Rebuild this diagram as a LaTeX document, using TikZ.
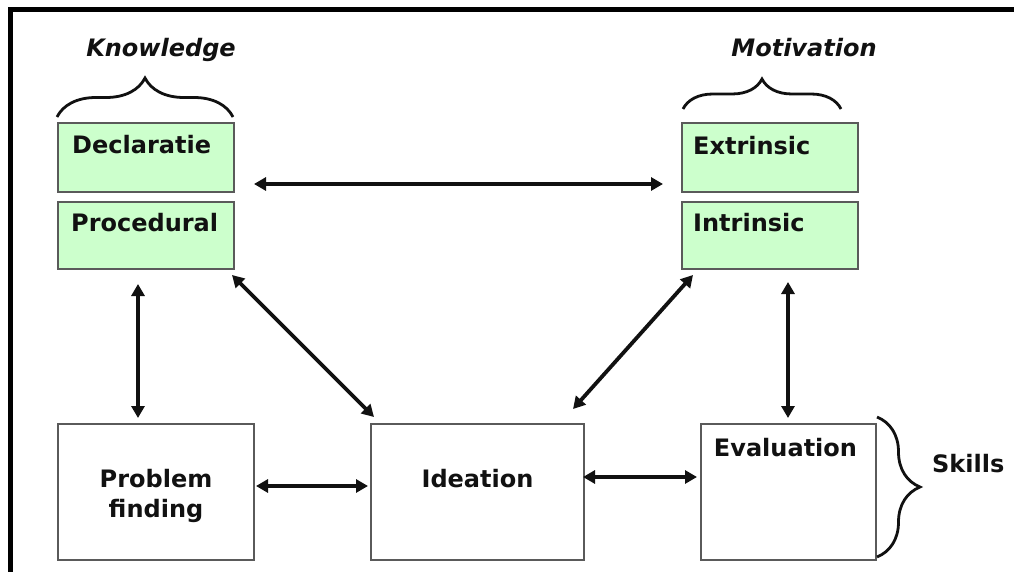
\documentclass[tikz,border=0pt]{standalone}
\usepackage{fontspec}
\setmainfont{DejaVu Sans}
\usetikzlibrary{arrows.meta,calc,decorations.pathreplacing}
\definecolor{boxgreen}{HTML}{CCFFCC}
\definecolor{boxline}{HTML}{5A5A5A}
\definecolor{ink}{HTML}{111111}
\begin{document}
\begin{tikzpicture}[x=1bp,y=-1bp,
  greenbox/.style={draw=boxline,line width=1.3bp,fill=boxgreen,minimum width=176bp,inner sep=0pt,outer sep=0pt},
  whitebox/.style={draw=boxline,line width=1.3bp,fill=white,minimum height=136bp,inner sep=0pt,outer sep=0pt},
  lbl/.style={font=\fontsize{24bp}{30bp}\selectfont\bfseries,text=ink,inner sep=0pt},
  hdr/.style={font=\fontsize{24bp}{28bp}\selectfont\bfseries\itshape,text=ink,inner sep=0pt},
  link/.style={line width=3.8bp,draw=ink,{Triangle[width=13bp,length=12bp]}-{Triangle[width=13bp,length=12bp]}},
  bracket/.style={line width=2.8bp,draw=ink,decorate,decoration={brace,amplitude=#1}}
]
\useasboundingbox (0,0) rectangle (1014,572);
\fill[white] (0,0) rectangle (1014,572);

% frame along the top and left edges
\draw[line width=5.5bp,draw=black] (10.5,572) -- (10.5,9.5) -- (1014,9.5);

% knowledge and motivation boxes
\node[greenbox,minimum height=69bp] (decl) at (146,157.5) {};
\node[greenbox,minimum height=67bp] (proc) at (146,235.5) {};
\node[greenbox,minimum height=69bp] (extr) at (770,157.5) {};
\node[greenbox,minimum height=67bp] (intr) at (770,235.5) {};

\node[lbl,anchor=base west] (declT) at ($(decl.north west)+(14,31)$) {Declaratie};
\node[lbl,anchor=base west] (procT) at ($(proc.north west)+(13,30)$) {Procedural};
\node[lbl,anchor=base west] (extrT) at ($(extr.north west)+(11,32)$) {Extrinsic};
\node[lbl,anchor=base west] (intrT) at ($(intr.north west)+(11,30)$) {Intrinsic};

% skill boxes
\node[whitebox,minimum width=196bp] (prob) at (156,492) {};
\node[whitebox,minimum width=213bp] (idea) at (477.5,492) {};
\node[whitebox,minimum width=175bp] (eval) at (788.5,492) {};

\node[lbl,align=center] (probT) at ($(prob.center)+(0,4)$) {Problem\\finding};
\node[lbl,anchor=base] (ideaT) at ($(idea.north)+(0,63)$) {Ideation};
\node[lbl,anchor=base] (evalT) at ($(eval.north)+(-3,32)$) {Evaluation};

% group headings and braces
\node[hdr,anchor=base] (know) at (161,57) {Knowledge};
\node[hdr,anchor=base] (moti) at (804,57) {Motivation};
\node[lbl,anchor=base west] (skil) at (932,472) {Skills};

\draw[bracket=39bp] ($(decl.north west)+(-1,-6)$) -- ($(decl.north east)+(-1,-6)$);
\draw[bracket=30bp] ($(extr.north west)+(1,-14)$) -- ($(extr.north east)+(-17,-14)$);
\draw[bracket=43bp] ($(eval.north east)+(1,-7)$) -- ($(eval.south east)+(1,-3)$);

% connectors
\draw[link] ($(decl.south east)+(20,-8)$) -- ($(extr.south west)+(-19,-8)$);
\draw[link] ($(proc.south west)+(80,15)$) -- ($(prob.north west)+(80,-6)$);
\draw[link] ($(intr.south west)+(106,13)$) -- ($(eval.north west)+(87,-6)$);
\draw[link] ($(proc.south east)+(-2,6)$) -- ($(idea.north west)+(3,-7)$);
\draw[link] ($(intr.south west)+(11,6)$) -- ($(idea.north east)+(-11,-15)$);
\draw[link] ($(prob.east)+(2,-6)$) -- ($(idea.west)+(-3,-6)$);
\draw[link] ($(idea.east)+(-1,-15)$) -- ($(eval.west)+(-4,-15)$);
\end{tikzpicture}
\end{document}
